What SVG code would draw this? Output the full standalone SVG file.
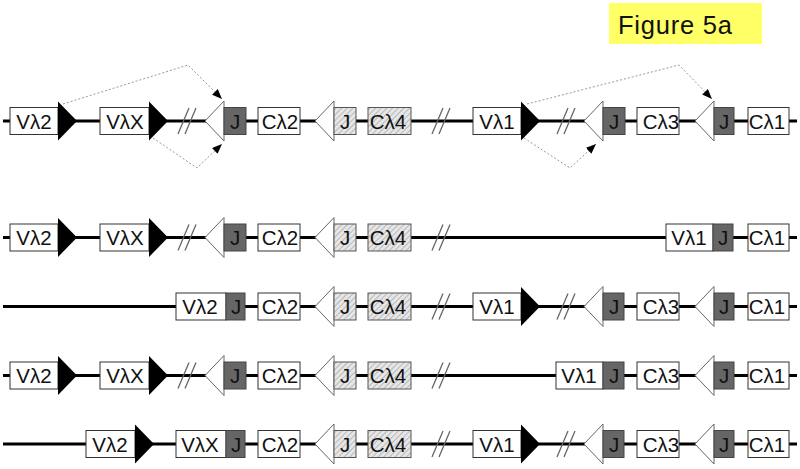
<svg xmlns="http://www.w3.org/2000/svg" width="800" height="469" viewBox="0 0 800 469">
<defs>
<pattern id="hatch" width="4" height="4" patternUnits="userSpaceOnUse" patternTransform="rotate(45)">
<rect width="4" height="4" fill="#e6e6e6"/>
<line x1="0" y1="0" x2="0" y2="4" stroke="#9a9a9a" stroke-width="1.2"/>
</pattern>
<marker id="ah" markerUnits="userSpaceOnUse" markerWidth="10" markerHeight="8" refX="10" refY="4" orient="auto">
<path d="M0,0 L10,4 L0,8 Z" fill="#000"/>
</marker>
<path id="btri" d="M0,-19.5 L19,0 L0,19.5 Z"/>
<path id="wtri" d="M0,0 L19,-20 L19,20 Z"/>
<path id="slash" d="M-9,13 L2,-13 M-2,13 L9,-13"/>
</defs>
<style>
.box{fill:#fff;stroke:#333;stroke-width:1}
.jd{fill:#666;stroke:#444;stroke-width:1}
.hat{fill:url(#hatch);stroke:#555;stroke-width:1}
.lbl{font-family:"Liberation Sans",Arial,sans-serif;font-size:20.5px;text-anchor:middle;fill:#111}
.bt{fill:#000}
.wt{fill:#fff;stroke:#666;stroke-width:1}
.bb{stroke:#000;stroke-width:3}
.sl{stroke:#666;stroke-width:1.3;fill:none}
.dot{stroke:#999;stroke-width:1;stroke-dasharray:2 2;fill:none;marker-end:url(#ah)}
</style>
<rect width="800" height="469" fill="#fff"/>

<g id="title">
<rect x="609" y="3" width="153" height="41" fill="#ffff66"/>
<text x="618" y="34" font-family="Liberation Sans, Arial, sans-serif" font-size="25.5" fill="#111" textLength="114">Figure 5a</text>
</g>

<g id="connectors">
<line class="bb" x1="3" y1="121" x2="797" y2="121"/>
<line class="bb" x1="3" y1="237.5" x2="797" y2="237.5"/>
<line class="bb" x1="3" y1="306.5" x2="797" y2="306.5"/>
<line class="bb" x1="3" y1="375.5" x2="797" y2="375.5"/>
<line class="bb" x1="3" y1="444" x2="797" y2="444"/>
<path class="dot" d="M63,104 L188,65 L222,99"/>
<path class="dot" d="M153,138 L197,168 L222,144"/>
<path class="dot" d="M527,104 L679,65 L712,99"/>
<path class="dot" d="M524,138 L570,168 L596,144"/>
</g>

<!-- Row 1 -->
<g id="row1" transform="translate(0,121)">
<g id="r1-vl2"><rect class="box" x="10" y="-13.5" width="48" height="27"/><text class="lbl" x="34" y="7.5">Vλ2</text></g>
<g id="r1-rss1"><use href="#btri" class="bt" x="58"/></g>
<g id="r1-vlx"><rect class="box" x="100" y="-13.5" width="49" height="27"/><text class="lbl" x="125" y="7.5">VλX</text></g>
<g id="r1-rss2"><use href="#btri" class="bt" x="149"/></g>
<g id="r1-br1"><use href="#slash" class="sl" x="187"/></g>
<g id="r1-rss3"><use href="#wtri" class="wt" x="205"/></g>
<g id="r1-j2"><rect class="jd" x="224" y="-13.5" width="22" height="27"/><text class="lbl" x="235" y="7.5">J</text></g>
<g id="r1-cl2"><rect class="box" x="258" y="-13.5" width="42" height="27"/><text class="lbl" x="280" y="7.5">Cλ2</text></g>
<g id="r1-rss4"><use href="#wtri" class="wt" x="315"/></g>
<g id="r1-j4"><rect class="hat" x="334" y="-13.5" width="22" height="27"/><text class="lbl" x="345" y="7.5">J</text></g>
<g id="r1-cl4"><rect class="hat" x="368" y="-13.5" width="43" height="27"/><text class="lbl" x="388" y="7.5">Cλ4</text></g>
<g id="r1-br2"><use href="#slash" class="sl" x="441"/></g>
<g id="r1-vl1"><rect class="box" x="473" y="-13.5" width="48" height="27"/><text class="lbl" x="497" y="7.5">Vλ1</text></g>
<g id="r1-rss5"><use href="#btri" class="bt" x="521"/></g>
<g id="r1-br3"><use href="#slash" class="sl" x="566"/></g>
<g id="r1-rss6"><use href="#wtri" class="wt" x="584"/></g>
<g id="r1-j3"><rect class="jd" x="603" y="-13.5" width="22" height="27"/><text class="lbl" x="614" y="7.5">J</text></g>
<g id="r1-cl3"><rect class="box" x="637" y="-13.5" width="42" height="27"/><text class="lbl" x="661" y="7.5">Cλ3</text></g>
<g id="r1-rss7"><use href="#wtri" class="wt" x="695"/></g>
<g id="r1-j1"><rect class="jd" x="714" y="-13.5" width="20" height="27"/><text class="lbl" x="724" y="7.5">J</text></g>
<g id="r1-cl1"><rect class="box" x="748" y="-13.5" width="41" height="27"/><text class="lbl" x="767" y="7.5">Cλ1</text></g>
</g>

<!-- Row 2 -->
<g id="row2" transform="translate(0,237.5)">
<g id="r2-vl2"><rect class="box" x="10" y="-13.5" width="48" height="27"/><text class="lbl" x="34" y="7.5">Vλ2</text></g>
<g id="r2-rss1"><use href="#btri" class="bt" x="58"/></g>
<g id="r2-vlx"><rect class="box" x="100" y="-13.5" width="49" height="27"/><text class="lbl" x="125" y="7.5">VλX</text></g>
<g id="r2-rss2"><use href="#btri" class="bt" x="149"/></g>
<g id="r2-br1"><use href="#slash" class="sl" x="187"/></g>
<g id="r2-rss3"><use href="#wtri" class="wt" x="205"/></g>
<g id="r2-j2"><rect class="jd" x="224" y="-13.5" width="22" height="27"/><text class="lbl" x="235" y="7.5">J</text></g>
<g id="r2-cl2"><rect class="box" x="258" y="-13.5" width="42" height="27"/><text class="lbl" x="280" y="7.5">Cλ2</text></g>
<g id="r2-rss4"><use href="#wtri" class="wt" x="315"/></g>
<g id="r2-j4"><rect class="hat" x="334" y="-13.5" width="22" height="27"/><text class="lbl" x="345" y="7.5">J</text></g>
<g id="r2-cl4"><rect class="hat" x="368" y="-13.5" width="43" height="27"/><text class="lbl" x="388" y="7.5">Cλ4</text></g>
<g id="r2-br2"><use href="#slash" class="sl" x="441"/></g>
<g id="r2-vl1"><rect class="box" x="666" y="-13.5" width="47" height="27"/><text class="lbl" x="689" y="7.5">Vλ1</text></g>
<g id="r2-j1"><rect class="jd" x="713" y="-13.5" width="20" height="27"/><text class="lbl" x="723" y="7.5">J</text></g>
<g id="r2-cl1"><rect class="box" x="748" y="-13.5" width="41" height="27"/><text class="lbl" x="767" y="7.5">Cλ1</text></g>
</g>

<!-- Row 3 -->
<g id="row3" transform="translate(0,306.5)">
<g id="r3-vl2"><rect class="box" x="176" y="-13.5" width="50" height="27"/><text class="lbl" x="200" y="7.5">Vλ2</text></g>
<g id="r3-j2"><rect class="jd" x="226" y="-13.5" width="19" height="27"/><text class="lbl" x="236" y="7.5">J</text></g>
<g id="r3-cl2"><rect class="box" x="258" y="-13.5" width="42" height="27"/><text class="lbl" x="280" y="7.5">Cλ2</text></g>
<g id="r3-rss4"><use href="#wtri" class="wt" x="315"/></g>
<g id="r3-j4"><rect class="hat" x="334" y="-13.5" width="22" height="27"/><text class="lbl" x="345" y="7.5">J</text></g>
<g id="r3-cl4"><rect class="hat" x="368" y="-13.5" width="43" height="27"/><text class="lbl" x="388" y="7.5">Cλ4</text></g>
<g id="r3-br2"><use href="#slash" class="sl" x="441"/></g>
<g id="r3-vl1"><rect class="box" x="473" y="-13.5" width="48" height="27"/><text class="lbl" x="497" y="7.5">Vλ1</text></g>
<g id="r3-rss5"><use href="#btri" class="bt" x="521"/></g>
<g id="r3-br3"><use href="#slash" class="sl" x="566"/></g>
<g id="r3-rss6"><use href="#wtri" class="wt" x="584"/></g>
<g id="r3-j3"><rect class="jd" x="603" y="-13.5" width="21" height="27"/><text class="lbl" x="614" y="7.5">J</text></g>
<g id="r3-cl3"><rect class="box" x="637" y="-13.5" width="42" height="27"/><text class="lbl" x="661" y="7.5">Cλ3</text></g>
<g id="r3-rss7"><use href="#wtri" class="wt" x="695"/></g>
<g id="r3-j1"><rect class="jd" x="714" y="-13.5" width="20" height="27"/><text class="lbl" x="724" y="7.5">J</text></g>
<g id="r3-cl1"><rect class="box" x="748" y="-13.5" width="41" height="27"/><text class="lbl" x="767" y="7.5">Cλ1</text></g>
</g>

<!-- Row 4 -->
<g id="row4" transform="translate(0,375.5)">
<g id="r4-vl2"><rect class="box" x="10" y="-13.5" width="48" height="27"/><text class="lbl" x="34" y="7.5">Vλ2</text></g>
<g id="r4-rss1"><use href="#btri" class="bt" x="58"/></g>
<g id="r4-vlx"><rect class="box" x="100" y="-13.5" width="49" height="27"/><text class="lbl" x="125" y="7.5">VλX</text></g>
<g id="r4-rss2"><use href="#btri" class="bt" x="149"/></g>
<g id="r4-br1"><use href="#slash" class="sl" x="187"/></g>
<g id="r4-rss3"><use href="#wtri" class="wt" x="205"/></g>
<g id="r4-j2"><rect class="jd" x="224" y="-13.5" width="22" height="27"/><text class="lbl" x="235" y="7.5">J</text></g>
<g id="r4-cl2"><rect class="box" x="258" y="-13.5" width="42" height="27"/><text class="lbl" x="280" y="7.5">Cλ2</text></g>
<g id="r4-rss4"><use href="#wtri" class="wt" x="315"/></g>
<g id="r4-j4"><rect class="hat" x="334" y="-13.5" width="22" height="27"/><text class="lbl" x="345" y="7.5">J</text></g>
<g id="r4-cl4"><rect class="hat" x="368" y="-13.5" width="43" height="27"/><text class="lbl" x="388" y="7.5">Cλ4</text></g>
<g id="r4-br2"><use href="#slash" class="sl" x="441"/></g>
<g id="r4-vl1"><rect class="box" x="556" y="-13.5" width="47" height="27"/><text class="lbl" x="579" y="7.5">Vλ1</text></g>
<g id="r4-j3"><rect class="jd" x="603" y="-13.5" width="21" height="27"/><text class="lbl" x="614" y="7.5">J</text></g>
<g id="r4-cl3"><rect class="box" x="637" y="-13.5" width="42" height="27"/><text class="lbl" x="661" y="7.5">Cλ3</text></g>
<g id="r4-rss7"><use href="#wtri" class="wt" x="695"/></g>
<g id="r4-j1"><rect class="jd" x="714" y="-13.5" width="20" height="27"/><text class="lbl" x="724" y="7.5">J</text></g>
<g id="r4-cl1"><rect class="box" x="748" y="-13.5" width="41" height="27"/><text class="lbl" x="767" y="7.5">Cλ1</text></g>
</g>

<!-- Row 5 -->
<g id="row5" transform="translate(0,444)">
<g id="r5-vl2"><rect class="box" x="86" y="-13.5" width="49" height="27"/><text class="lbl" x="110" y="7.5">Vλ2</text></g>
<g id="r5-rss1"><use href="#btri" class="bt" x="135"/></g>
<g id="r5-vlx"><rect class="box" x="176" y="-13.5" width="50" height="27"/><text class="lbl" x="200" y="7.5">VλX</text></g>
<g id="r5-j2"><rect class="jd" x="226" y="-13.5" width="19" height="27"/><text class="lbl" x="236" y="7.5">J</text></g>
<g id="r5-cl2"><rect class="box" x="258" y="-13.5" width="42" height="27"/><text class="lbl" x="280" y="7.5">Cλ2</text></g>
<g id="r5-rss4"><use href="#wtri" class="wt" x="315"/></g>
<g id="r5-j4"><rect class="hat" x="334" y="-13.5" width="22" height="27"/><text class="lbl" x="345" y="7.5">J</text></g>
<g id="r5-cl4"><rect class="hat" x="368" y="-13.5" width="43" height="27"/><text class="lbl" x="388" y="7.5">Cλ4</text></g>
<g id="r5-br2"><use href="#slash" class="sl" x="441"/></g>
<g id="r5-vl1"><rect class="box" x="473" y="-13.5" width="48" height="27"/><text class="lbl" x="497" y="7.5">Vλ1</text></g>
<g id="r5-rss5"><use href="#btri" class="bt" x="521"/></g>
<g id="r5-br3"><use href="#slash" class="sl" x="566"/></g>
<g id="r5-rss6"><use href="#wtri" class="wt" x="584"/></g>
<g id="r5-j3"><rect class="jd" x="603" y="-13.5" width="21" height="27"/><text class="lbl" x="614" y="7.5">J</text></g>
<g id="r5-cl3"><rect class="box" x="637" y="-13.5" width="42" height="27"/><text class="lbl" x="661" y="7.5">Cλ3</text></g>
<g id="r5-rss7"><use href="#wtri" class="wt" x="695"/></g>
<g id="r5-j1"><rect class="jd" x="714" y="-13.5" width="20" height="27"/><text class="lbl" x="724" y="7.5">J</text></g>
<g id="r5-cl1"><rect class="box" x="748" y="-13.5" width="41" height="27"/><text class="lbl" x="767" y="7.5">Cλ1</text></g>
</g>
</svg>
